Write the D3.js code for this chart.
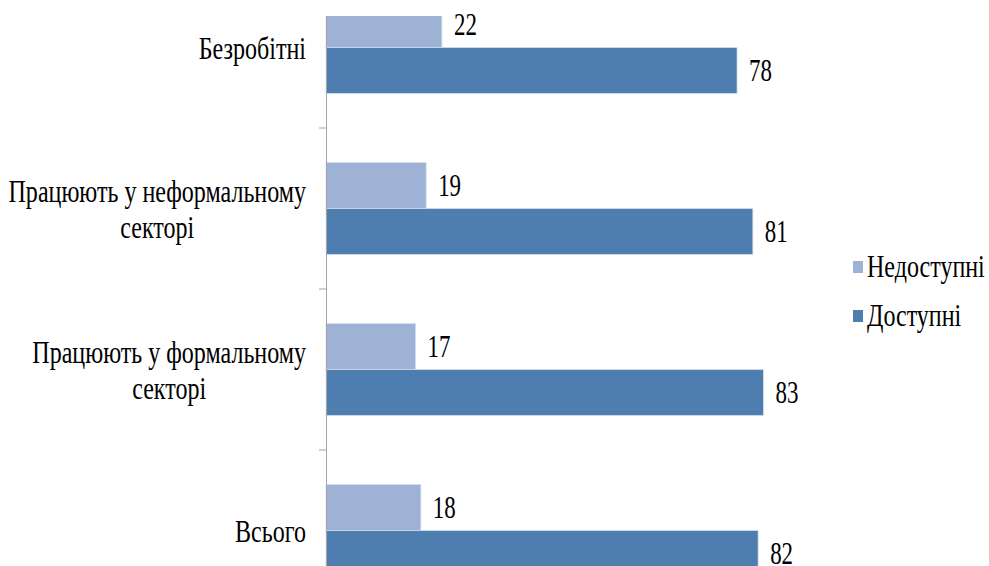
<!DOCTYPE html>
<html><head><meta charset="utf-8">
<script src="https://cdn.jsdelivr.net/npm/d3@7"></script>
<style>body{margin:0;background:#fff;} svg{display:block;}</style>
</head><body>
<svg id="c" width="989" height="566"></svg>
<script>
const categories = [["Безробітні"], ["Працюють у неформальному", "секторі"], ["Працюють у формальному", "секторі"], ["Всього"]];
const seriesNames = ["Недоступні", "Доступні"];
const unavailable = [22, 19, 17, 18];
const available = [78, 81, 83, 82];
const colors = ["#9EB2D6", "#4E7DB0"];

const W = 989, H = 566;
const svg = d3.select("#c");
const sxNum = 0.74, sxTxt = 0.775, fs = 31;
const FF = "'Liberation Serif'";

// compress text horizontally via textLength
function squeeze(sel, s) {
  sel.each(function () {
    const n = this.getComputedTextLength();
    d3.select(this).attr("textLength", n * s).attr("lengthAdjust", "spacingAndGlyphs");
  });
}

const x = d3.scaleLinear().domain([0, 100]).range([326, 853]);
const y = d3.scaleBand().domain(d3.range(categories.length)).range([-33, 611]).paddingInner(0).paddingOuter(0);
const inner = d3.scaleBand().domain([0, 1]).range([0, y.bandwidth()]).paddingOuter(0.75).paddingInner(0);

svg.append("clipPath").attr("id", "pc").append("rect").attr("x", 0).attr("y", 16).attr("width", W).attr("height", H - 16);
const plot = svg.append("g").attr("clip-path", "url(#pc)");

const series = [unavailable, available];
series.forEach((vals, si) => {
  plot.append("g").selectAll("rect").data(vals).join("rect")
    .attr("x", x(0))
    .attr("y", (d, i) => y(i) + inner(si))
    .attr("width", d => x(d) - x(0))
    .attr("height", inner.bandwidth())
    .attr("fill", colors[si])
    .attr("stroke", "#d5deed").attr("stroke-width", 0.8);
  const t = svg.append("g").selectAll("text").data(vals).join("text")
    .attr("x", d => x(d) + 12)
    .attr("y", (d, i) => y(i) + inner(si) + inner.bandwidth() / 2 + 10)
    .style("font-family", FF).attr("font-size", fs).attr("fill", "#000")
    .text(d => d);
  squeeze(t, sxNum);
});

// axis
const axis = d3.axisLeft(y).tickSize(7).tickFormat("").tickSizeOuter(0);
const ag = plot.append("g").attr("transform", `translate(${x(0)},0)`).call(axis);
ag.select(".domain").attr("stroke", "#a6a6a6");
ag.selectAll(".tick").remove();
const bounds = d3.range(1, categories.length).map(i => y(i));
ag.selectAll("line.b").data(bounds).join("line").attr("class", "b")
  .attr("x1", -7).attr("x2", 0).attr("y1", d => d).attr("y2", d => d)
  .attr("stroke", "#a6a6a6");

// category labels: block right-aligned at x=306, lines centred
categories.forEach((lines, i) => {
  const lh = 36;
  const cy = y(i) + y.bandwidth() / 2 + 11;
  const g = svg.append("g");
  const ts = g.selectAll("text").data(lines).join("text")
    .style("font-family", FF).attr("font-size", fs).attr("fill", "#000")
    .attr("text-anchor", "middle")
    .attr("y", (d, k) => cy + (k - (lines.length - 1) / 2) * lh)
    .text(d => d);
  const widths = ts.nodes().map(n => n.getComputedTextLength());
  const maxW = d3.max(widths) * sxTxt;
  ts.attr("x", 306 - maxW / 2);
  squeeze(ts, sxTxt);
});

// legend
seriesNames.forEach((n, i) => {
  const yy = 267 + i * 49;
  svg.append("rect").attr("x", 853).attr("y", yy - 6).attr("width", 10).attr("height", 12).attr("fill", colors[i]);
  const t = svg.append("text").attr("x", 867).attr("y", yy + 10)
    .style("font-family", FF).attr("font-size", fs).text(n);
  squeeze(t, sxTxt);
});
</script>
</body></html>
